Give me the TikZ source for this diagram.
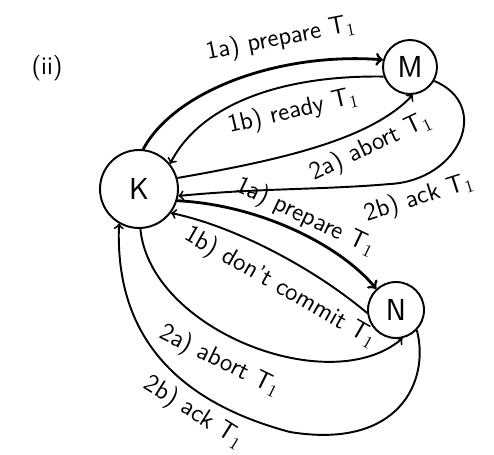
\documentclass[tikz,border=0pt]{standalone}
\usepackage{amsmath}
\usepackage{tikz}

\begin{document}
\begin{tikzpicture}[x=0.02cm, y=-0.02cm,
        site/.style={draw, circle, line width=1.1pt, inner sep=0pt, font=\LARGE\sffamily},
        msg/.style={line width=1.1pt},
        prep/.style={line width=1.6pt},
        lab/.style={sloped, font=\Large\sffamily}]
        \useasboundingbox (0,0) rectangle (494,454);

        % Nodes for the sites
        \node [font=\Large\sffamily] (part) at (47,68) {(ii)};
        \node [site, minimum size=1.56cm] (K) at (139,189) {K};
        \node [site, minimum size=1.08cm] (M) at (410,67) {M};
        \node [site, minimum size=1.12cm] (N) at (396,310) {N};

        % Messages between K and M
        \draw [prep, ->] (K.84) .. controls (175,90) and (280,52) .. (M.165)
            node [lab, above=4pt, pos=0.68] {1a) prepare $\mathsf{T}_1$};
        \draw [msg, <-] (K.39) .. controls (200,105) and (280,75) .. (M.200)
            node [lab, below=4pt, pos=0.66] {1b) ready $\mathsf{T}_1$};
        \draw [msg, ->] (K.16) .. controls (280,160) and (370,140) .. (M.276)
            node [lab, below, pos=0.7] {2a) abort $\mathsf{T}_1$};
        \draw [msg, <-] (K.-10) .. controls (260,188) and (320,190) .. (390,184)
            .. controls (460,180) and (492,105) .. (M.-30)
            node [lab, below, pos=0.12] {2b) ack $\mathsf{T}_1$};

        % Messages between K and N
        \draw [prep, ->] (K.-17) .. controls (260,205) and (340,245) .. (N.133)
            node [lab, above=-2pt, pos=0.52] {1a) prepare $\mathsf{T}_1$};
        \draw [msg, <-] (K.-37) .. controls (230,225) and (310,265) .. (N.186)
            node [lab, below=5pt, pos=0.62] {1b) don't commit $\mathsf{T}_1$};
        \draw [msg, ->] (K.272) .. controls (150,330) and (330,400) .. (N.283)
            node [lab, below=4pt, pos=0.45] {2a) abort $\mathsf{T}_1$};
        \draw [msg, <-] (K.240) .. controls (115,330) and (170,400) .. (290,432)
            node [lab, below, pos=0.72] {2b) ack $\mathsf{T}_1$}
            .. controls (400,450) and (430,380) .. (N.316);
\end{tikzpicture}
\end{document}
